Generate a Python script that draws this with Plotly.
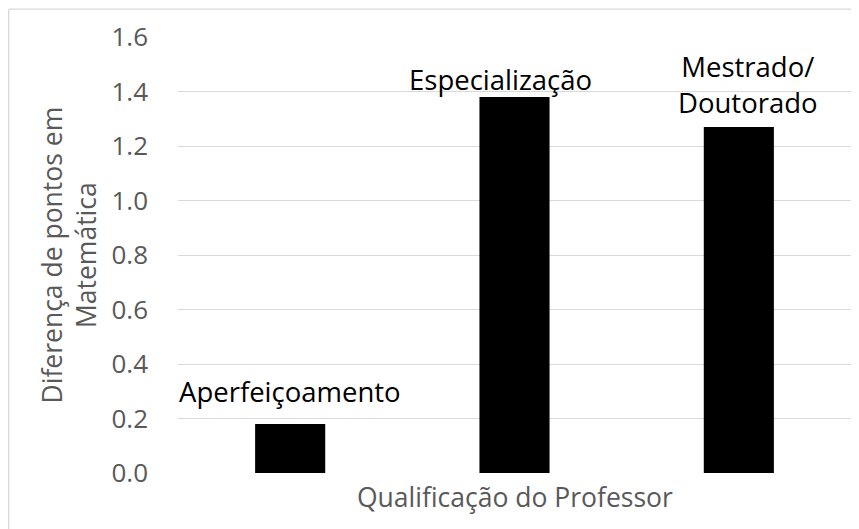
import plotly.graph_objects as go

categories = ["Aperfeiçoamento", "Especialização", "Mestrado/<br>Doutorado"]
values = [0.18, 1.38, 1.27]
y_ticks = [0.0, 0.2, 0.4, 0.6, 0.8, 1.0, 1.2, 1.4, 1.6]
x_title = "Qualificação do Professor"
y_title = "Diferença de pontos em<br>Matemática"

# label offsets (style)
label_xshift = [0, -14, 9]
label_yshift = [32, 17, 42]

# page has an 8px body margin: the figure starts at (8, 8)
OFF = 8
W, H = 859 - OFF, 529 - OFF
L, T = 178 - OFF, 37 - OFF
pw, ph = 673, 436
R, B = W - L - pw, H - T - ph

FONT = "Open Sans"
GRAY = "#595959"

fig = go.Figure()
fig.add_trace(go.Bar(
    x=list(range(len(categories))), y=values,
    marker=dict(color="black", line=dict(width=0)),
    hoverinfo="skip",
))

annotations = []
for i, (c, v) in enumerate(zip(categories, values)):
    annotations.append(dict(
        x=i, y=v, xref="x", yref="y", text=c, showarrow=False,
        xanchor="center", yanchor="middle",
        xshift=label_xshift[i], yshift=label_yshift[i],
        font=dict(family=FONT, size=27.5, color="black"),
    ))
annotations.append(dict(
    x=0.5, y=(-(497 - OFF - (T + ph))) / ph, xref="paper", yref="paper",
    text=x_title, showarrow=False, xanchor="center", yanchor="middle",
    font=dict(family=FONT, size=26.5, color=GRAY),
))
annotations.append(dict(
    x=(68.5 - OFF - L) / pw, y=0.5, xref="paper", yref="paper",
    text=y_title, showarrow=False, xanchor="center", yanchor="middle",
    textangle=-90,
    font=dict(family=FONT, size=26.5, color=GRAY),
))

border = "#d9d9d9"
bx = 0.7 - L          # left border (px from plot left)
by = T + ph - 1.2     # top border (px above plot bottom)
shapes = [
    dict(type="line", xref="paper", yref="paper",
         x0=bx / pw, x1=(W + 5 - L) / pw,
         y0=by / ph, y1=by / ph,
         line=dict(color=border, width=1.3)),
    dict(type="line", xref="paper", yref="paper",
         x0=bx / pw, x1=bx / pw,
         y0=by / ph, y1=(T + ph - H - 5) / ph,
         line=dict(color=border, width=1.3)),
]

fig.update_layout(
    width=W, height=H,
    margin=dict(l=L, r=R, t=T, b=B, autoexpand=False),
    plot_bgcolor="white", paper_bgcolor="white",
    bargap=0.6875,
    showlegend=False,
    annotations=annotations,
    shapes=shapes,
    font=dict(family=FONT),
)
fig.update_xaxes(
    range=[-0.5, len(categories) - 0.5],
    showticklabels=False, showgrid=False, zeroline=False,
    showline=False, ticks="",
)
fig.update_yaxes(
    range=[0, 1.6], tickvals=y_ticks, tickformat=".1f",
    showgrid=True, gridcolor="#d9d9d9", gridwidth=1.3,
    zeroline=False, showline=False, ticks="",
    ticklabelstandoff=29,
    tickfont=dict(family=FONT, size=26, color=GRAY),
)

fig.write_html("out.html")
